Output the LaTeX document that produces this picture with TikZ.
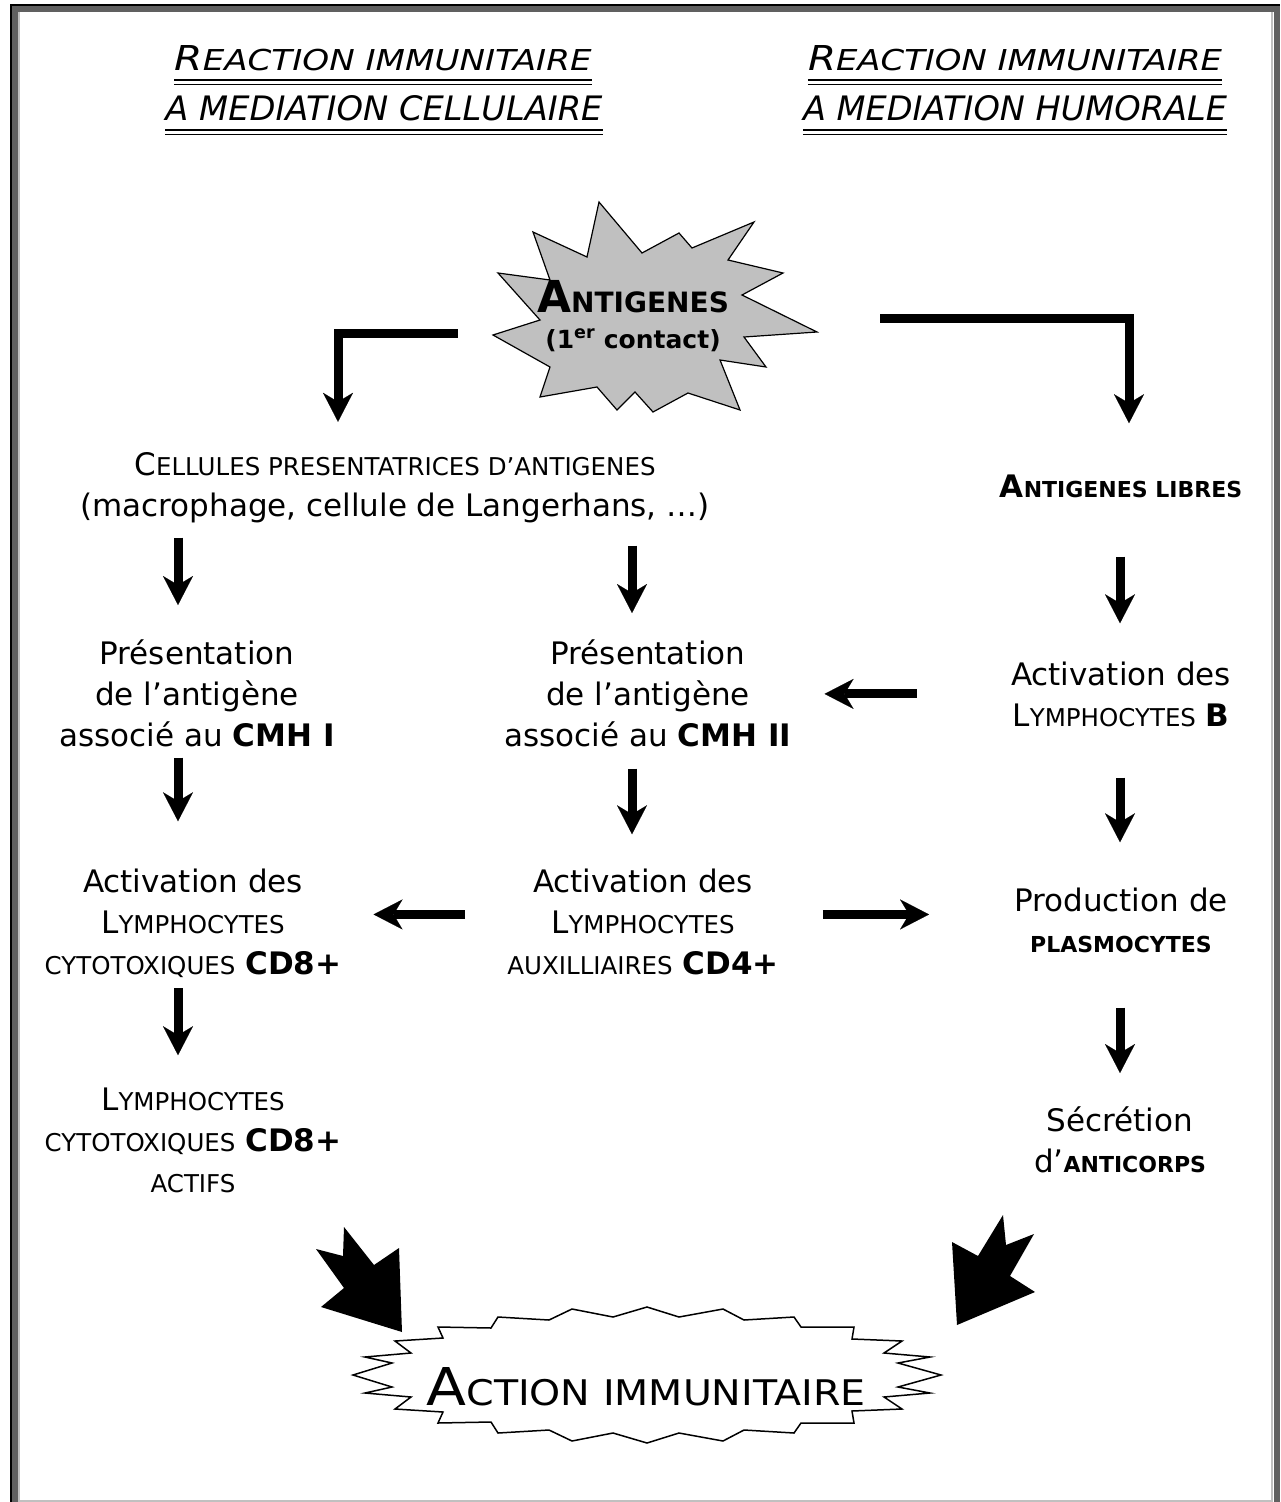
\documentclass[tikz,border=0pt]{standalone}
\usepackage{fontspec}
\setmainfont{DejaVu Sans}
\usepackage{graphicx}
\usetikzlibrary{arrows.meta}
\definecolor{framegray}{HTML}{606060}
\definecolor{framelight}{HTML}{C0C0C0}
\definecolor{stargray}{HTML}{C0C0C0}
\tikzstyle{txt} = [anchor=base, align=center, inner sep=0pt, font=\fontsize{31}{41}\selectfont]
\tikzstyle{head} = [anchor=base, inner sep=0pt, font=\fontsize{31}{31}\selectfont\itshape]
\tikzstyle{arr} = [line width=9pt, line join=miter, -{Stealth[length=29pt, width=30pt, inset=9pt, line width=0.1pt]}]
\newcommand\sct[1]{{\fontsize{24.5}{41}\selectfont #1}}
\newcommand\scbf[1]{{\bfseries\fontsize{22}{41}\selectfont #1}}

\begin{document}
\begin{tikzpicture}[x=1pt, y=-1pt]
    \useasboundingbox (0,0) rectangle (1280,1502);
    \clip (0,0) rectangle (1280,1502);
    \draw[line width=6pt, framegray] (15,1510) -- (15,9) -- (1277,9) -- (1277,1510);
    \draw[line width=2pt, framelight] (19,12) -- (19,1501) -- (1272,1501) -- (1272,12);
    \draw[line width=2pt] (11,1510) -- (11,5) -- (1280,5);

    \node[head] (hc1) at (383,70) {\resizebox{417pt}{25pt}{R{\fontsize{26}{26}\selectfont EACTION IMMUNITAIRE}}};
    \node[head] (hc2) at (384,120) {\resizebox{437pt}{25pt}{A MEDIATION CELLULAIRE}};
    \node[head] (hh1) at (1015,70) {\resizebox{414pt}{25pt}{R{\fontsize{26}{26}\selectfont EACTION IMMUNITAIRE}}};
    \node[head] (hh2) at (1015,120) {\resizebox{424pt}{25pt}{A MEDIATION HUMORALE}};
    \foreach \h in {hc1,hc2,hh1,hh2} {
        \draw[line width=2.5pt] ([yshift=-10pt]\h.base west) -- ([yshift=-10pt]\h.base east);
        \draw[line width=1.2pt] ([yshift=-14.5pt]\h.base west) -- ([yshift=-14.5pt]\h.base east);
    }

    \draw[fill=stargray, line width=1.2pt, line join=miter] (599,202) -- (642,253) -- (679,233) -- (692,248) -- (754,222) -- (728,260) -- (783,273) -- (742,295) -- (817,332) -- (744,337) -- (766,367) -- (720,360) -- (740,410) -- (688,393) -- (653,412) -- (635,392) -- (617,410) -- (597,387) -- (540,397) -- (550,367) -- (493,335) -- (540,320) -- (498,273) -- (550,280) -- (533,232) -- (587,257) -- cycle;
    \node[txt, font=\bfseries\fontsize{25}{36}\selectfont] (ag) at (633,348) {{\fontsize{44}{36}\selectfont A}{\fontsize{28}{36}\selectfont NTIGENES}\\(1\textsuperscript{er} contact)};

    \node[txt] (cpa) at (395,516) {C\sct{ELLULES PRESENTATRICES D’ANTIGENES}\\(macrophage, cellule de Langerhans, …)};
    \node[txt] (pres1) at (197,746) {Présentation\\de l’antigène\\associé au \textbf{CMH I}};
    \node[txt] (pres2) at (648,746) {Présentation\\de l’antigène\\associé au \textbf{CMH II}};
    \node[txt] (actc) at (193,974) {Activation des\\L\sct{YMPHOCYTES}\\\sct{CYTOTOXIQUES} \textbf{CD8+}};
    \node[txt] (act4) at (643,974) {Activation des\\L\sct{YMPHOCYTES}\\\sct{AUXILLIAIRES} \textbf{CD4+}};
    \node[txt] (ltac) at (193,1192) {L\sct{YMPHOCYTES}\\\sct{CYTOTOXIQUES} \textbf{CD8+}\\\sct{ACTIFS}};
    \node[txt] (agl) at (1121,497) {\textbf{A}\scbf{NTIGENES LIBRES}};
    \node[txt] (actb) at (1121,726) {Activation des\\L\sct{YMPHOCYTES} \textbf{B}};
    \node[txt] (prod) at (1121,952) {Production de\\\scbf{PLASMOCYTES}};
    \node[txt] (secr) at (1120,1172) {Sécrétion\\d’\scbf{ANTICORPS}};

    \coordinate (c1) at (178,0);
    \coordinate (c2) at (632,0);
    \coordinate (c3) at (1120,0);
    \draw[arr, shorten <=79pt, shorten >=30pt] ([yshift=-17.5pt]ag.west) -| ([xshift=-57pt]cpa.north);
    \draw[arr, shorten <=151pt, shorten >=51pt] ([yshift=-2.5pt]ag.east) -| ([xshift=8pt]agl.north);
    \draw[arr, shorten <=15pt, shorten >=34pt] (cpa.south -| c1) -- (pres1.north -| c1);
    \draw[arr, shorten <=23pt, shorten >=26pt] (cpa.south -| c2) -- (pres2.north -| c2);
    \draw[arr, shorten <=11pt, shorten >=47pt] (pres1.south -| c1) -- (actc.north -| c1);
    \draw[arr, shorten <=22pt, shorten >=34pt] (pres2.south -| c2) -- (act4.north -| c2);
    \draw[arr, shorten <=11pt, shorten >=32pt] (actc.south -| c1) -- (ltac.north -| c1);
    \draw[arr, shorten <=59pt, shorten >=38pt] (agl.south -| c3) -- (actb.north -| c3);
    \draw[arr, shorten <=51pt, shorten >=45pt] (actb.south -| c3) -- (prod.north -| c3);
    \draw[arr, shorten <=55pt, shorten >=33pt] (prod.south -| c3) -- (secr.north -| c3);
    \draw[arr, shorten <=94pt, shorten >=33pt] (actb.west) -- (actb.west -| pres2.east);
    \draw[arr, shorten <=42pt, shorten >=32pt] ([yshift=7pt]act4.west) -- ([yshift=7pt]act4.west -| actc.east);
    \draw[arr, shorten <=44pt, shorten >=85pt] ([yshift=7pt]act4.east) -- ([yshift=7pt]act4.east -| prod.west);

    \fill (402,1332) -- (399,1248) -- (374,1265) -- (344,1227) -- (343,1256) -- (316,1249) -- (344,1288) -- (321,1307) -- cycle;
    \fill (952,1242) -- (978,1256) -- (1003,1215) -- (1006,1245) -- (1034,1234) -- (1010,1276) -- (1035,1292) -- (957,1325) -- cycle;

    \draw[fill=white, line width=1.5pt, line join=miter] (353,1375) -- (392,1363) -- (365,1357) -- (411,1353) -- (395,1341) -- (443,1338) -- (438,1327) -- (491,1328) -- (498,1317) -- (549,1320) -- (572,1309) -- (613,1317) -- (647,1307) -- (679,1317) -- (723,1309) -- (744,1320) -- (794,1317) -- (801,1327) -- (854,1327) -- (852,1339) -- (902,1341) -- (884,1353) -- (930,1357) -- (898,1363) -- (941,1375) -- (898,1387) -- (930,1393) -- (884,1397) -- (902,1409) -- (852,1411) -- (854,1423) -- (801,1423) -- (794,1433) -- (744,1430) -- (723,1441) -- (679,1433) -- (647,1443) -- (613,1433) -- (572,1441) -- (549,1430) -- (498,1433) -- (491,1422) -- (438,1423) -- (443,1412) -- (395,1409) -- (411,1397) -- (365,1393) -- (392,1387) -- cycle;
    \node[txt] (act) at (646,1405) {\resizebox{439pt}{38pt}{A\fontsize{21}{21}\selectfont CTION IMMUNITAIRE}};
\end{tikzpicture}
\end{document}
